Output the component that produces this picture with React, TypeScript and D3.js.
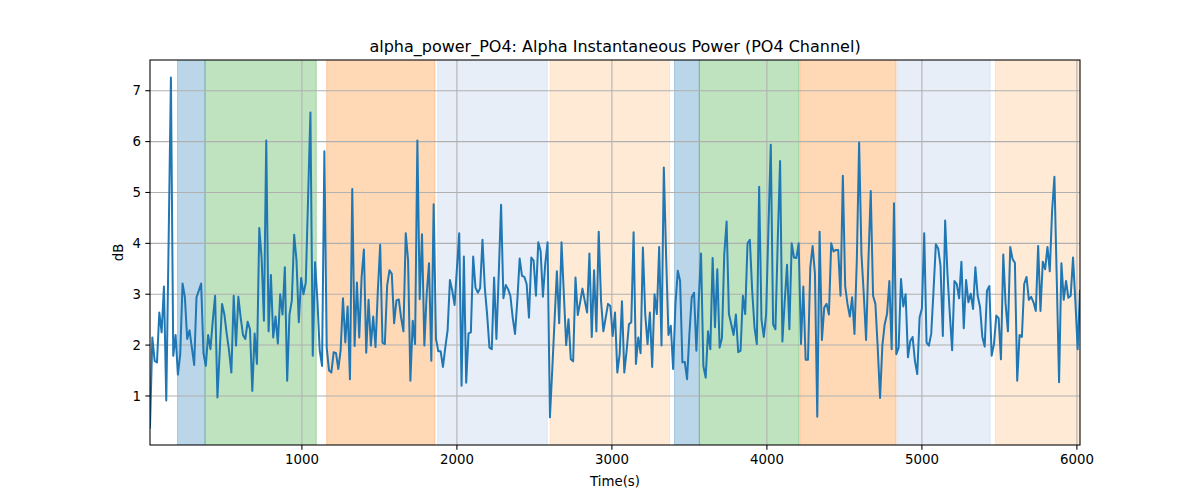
import * as d3 from 'd3';

// alpha power samples (dB), one every 15 s
const alphaPower: number[] = [
  0.38, 2.15, 1.69, 1.66, 2.64, 2.25, 3.15, 0.91, 4.0, 7.26,
  1.79, 2.2, 1.42, 1.82, 3.21, 2.94, 2.12, 2.29, 1.95, 1.61,
  2.94, 3.07, 3.21, 1.84, 1.59, 2.2, 1.92, 2.48, 2.97, 0.97,
  1.89, 2.81, 2.6, 2.22, 1.89, 1.46, 2.97, 1.99, 2.95, 2.54,
  2.2, 2.12, 2.46, 2.31, 1.1, 2.23, 1.63, 4.3, 3.72, 2.48,
  6.02, 2.27, 3.38, 2.15, 2.56, 2.03, 3.0,
  2.6, 3.53, 1.3, 2.6, 2.88, 4.17, 3.67, 2.45, 3.32, 3.0,
  3.23, 4.9, 6.57, 1.79, 3.63, 2.89, 1.89, 1.59, 5.81, 1.95,
  1.5, 1.46, 1.86, 1.84, 1.53, 1.9, 2.92, 2.05, 2.76, 1.33,
  5.07, 1.98, 3.23, 2.15, 3.33, 3.88, 1.85, 2.89, 1.99, 2.56,
  1.96, 3.07, 3.97, 2.05, 2.02, 3.17, 3.47, 3.4, 2.43, 2.88,
  2.9, 2.54, 2.27, 4.2, 3.67, 1.3, 2.48,
  2.02, 6.02, 2.9, 4.18, 1.99, 3.0, 3.61, 1.69, 4.77, 2.12,
  1.88, 1.88, 1.57, 1.95, 2.29, 3.28, 3.07, 2.79, 3.5, 4.2,
  1.2, 3.74, 1.26, 2.23, 2.25, 3.74, 3.13, 3.03, 3.12, 4.07,
  3.13, 2.6, 1.95, 1.92, 3.33, 2.12, 3.4, 4.76, 2.92, 3.18,
  3.1, 2.97, 2.54, 2.22, 2.89, 3.7, 3.36, 3.34, 3.2, 2.54,
  3.72, 3.66, 2.97, 4.02, 3.85, 2.95, 3.6,
  4.02, 0.58, 1.5, 2.48, 3.45, 2.43, 4.02, 3.0, 2.0, 2.51,
  1.72, 1.68, 3.33, 2.59, 2.84, 3.11, 2.87, 2.64, 3.8, 2.16,
  3.47, 2.27, 4.23, 2.87, 2.27, 2.54, 2.81, 2.77, 2.18, 2.64,
  1.46, 1.82, 2.86, 1.46, 1.89, 2.41, 2.45, 4.22, 1.63, 2.15,
  1.84, 3.92, 2.61, 2.02, 2.64, 1.57, 3.0, 2.61, 3.93, 1.99,
  5.49, 3.72, 2.2, 2.38, 1.53, 2.81, 3.46,
  3.26, 1.66, 1.67, 1.33, 2.22, 2.94, 3.03, 1.89, 2.87, 3.8,
  1.59, 1.36, 2.27, 1.92, 3.71, 2.35, 3.49, 1.95, 2.14, 3.79,
  4.43, 2.61, 2.41, 2.2, 2.6, 1.86, 1.89, 2.97, 2.61, 4.0,
  4.07, 3.07, 2.35, 2.02, 5.11, 2.5, 2.16, 2.61, 4.31, 5.94,
  2.41, 2.31, 4.05, 5.62, 2.07, 2.87, 3.58, 2.31, 4.0, 3.72,
  3.71, 4.0, 2.02, 3.15, 1.71, 1.71, 3.53,
  3.95, 3.4, 0.59, 4.23, 2.1, 2.74, 2.81, 2.6, 4.0, 3.84,
  3.87, 3.87, 2.97, 5.33, 3.16, 2.81, 2.56, 2.94, 2.22, 3.66,
  5.98, 3.79, 3.0, 2.1, 3.66, 5.03, 2.97, 2.81, 1.95, 0.96,
  1.99, 2.41, 2.61, 3.26, 1.92, 4.79, 1.82, 1.95, 3.3, 2.76,
  3.0, 1.76, 2.08, 2.16, 1.69, 1.43, 2.54, 2.72, 4.2, 2.05,
  1.99, 2.22, 3.07, 3.98, 3.9, 3.56, 2.18, 4.45,
  3.4, 2.61, 1.9, 3.26, 3.2, 2.92, 3.64, 2.33, 3.28, 2.84,
  3.01, 2.71, 3.53, 2.97, 2.75, 2.16, 1.97, 3.07, 3.16, 1.79,
  2.02, 2.58, 2.53, 1.72, 3.78, 2.81, 2.27, 3.93, 3.69, 3.62,
  1.3, 2.2, 2.16, 3.2, 3.34, 2.89, 2.95, 2.84, 2.67, 3.95,
  2.67, 3.64, 3.49, 3.93, 3.45, 4.64, 5.31, 3.3, 1.27, 3.61,
  2.89, 3.26, 2.93, 2.97, 3.72, 2.87, 1.92, 3.07,
];

const startTime = 20;
const sampleStep = 15;
const times = alphaPower.map((_, i) => startTime + i * sampleStep);

// shaded stages [start, end, colour]
const bandStarts = [198, 375, 1160, 1876, 2602, 3404, 3564, 4212, 4840, 5474];
const bandEnds = [375, 1093, 1858, 2583, 3372, 3564, 4206, 4833, 5440, 6100];
const bandColors = ['#1f77b4', '#2ca02c', '#ff7f0e', '#aec7e8', '#ffbb78',
  '#1f77b4', '#2ca02c', '#ff7f0e', '#aec7e8', '#ffbb78'];

const xTicks = [1000, 2000, 3000, 4000, 5000, 6000];
const yTicks = [1, 2, 3, 4, 5, 6, 7];

const W = 1200;
const H = 500;
const margin = { top: 60, right: 120, bottom: 55, left: 150 };
const FONT = '"DejaVu Sans", sans-serif';

export default function App() {
  const iw = W - margin.left - margin.right;
  const ih = H - margin.top - margin.bottom;

  const x = d3.scaleLinear()
    .domain(d3.extent(times) as [number, number])
    .range([0, iw]);

  const lo = d3.min(alphaPower) ?? 0;
  const hi = d3.max(alphaPower) ?? 1;
  const pad = (hi - lo) * 0.05;
  const y = d3.scaleLinear().domain([lo - pad, hi + pad]).range([ih, 0]);

  const line = d3.line<number>()
    .x((_, i) => x(times[i]))
    .y(d => y(d));

  const [x0, x1] = x.domain();

  return (
    <div style={{ position: 'absolute', left: 0, top: 0 }}>
      <svg width={W} height={H} style={{ display: 'block', background: '#fff' }}>
        <defs>
          <clipPath id="plot-clip">
            <rect x={0} y={0} width={iw} height={ih} />
          </clipPath>
        </defs>
        <text x={margin.left + iw / 2} y={52} textAnchor="middle"
          style={{ fontFamily: FONT, fontSize: '16px', fill: '#000' }}>
          alpha_power_PO4: Alpha Instantaneous Power (PO4 Channel)
        </text>
        <g transform={`translate(${margin.left},${margin.top})`}>
          <g clipPath="url(#plot-clip)">
            {bandStarts.map((s, i) => {
              const a = x(Math.max(s, x0));
              const b = x(Math.min(bandEnds[i], x1 + 100));
              return (
                <rect key={i} x={a} y={-2} width={b - a} height={ih + 4}
                  fill={bandColors[i]} fillOpacity={0.3}
                  stroke={bandColors[i]} strokeOpacity={0.3} strokeWidth={1} />
              );
            })}
            {xTicks.map(t => (
              <line key={`gx${t}`} x1={x(t)} x2={x(t)} y1={0} y2={ih}
                stroke="#b0b0b0" strokeWidth={1.07} />
            ))}
            {yTicks.map(t => (
              <line key={`gy${t}`} x1={0} x2={iw} y1={y(t)} y2={y(t)}
                stroke="#b0b0b0" strokeWidth={1.07} />
            ))}
            <path d={line(alphaPower) ?? ''} fill="none" stroke="#1f77b4"
              strokeWidth={2} strokeLinejoin="round" strokeLinecap="square" />
          </g>
          <rect x={0} y={0} width={iw} height={ih} fill="none" stroke="#000" strokeWidth={1.07} />
          {xTicks.map(t => (
            <g key={`tx${t}`} transform={`translate(${x(t)},${ih})`}>
              <line y1={0} y2={4.67} stroke="#000" strokeWidth={1.07} />
              <text y={18.5} textAnchor="middle"
                style={{ fontFamily: FONT, fontSize: '13.33px', fill: '#000' }}>{t}</text>
            </g>
          ))}
          {yTicks.map(t => (
            <g key={`ty${t}`} transform={`translate(0,${y(t)})`}>
              <line x1={0} x2={-4.67} stroke="#000" strokeWidth={1.07} />
              <text x={-9} dy="0.35em" textAnchor="end"
                style={{ fontFamily: FONT, fontSize: '13.33px', fill: '#000' }}>{t}</text>
            </g>
          ))}
          <text x={iw / 2} y={ih + 41} textAnchor="middle"
            style={{ fontFamily: FONT, fontSize: '13.33px', fill: '#000' }}>Time(s)</text>
          <text transform={`translate(-27,${ih / 2}) rotate(-90)`} textAnchor="middle"
            style={{ fontFamily: FONT, fontSize: '13.33px', fill: '#000' }}>dB</text>
        </g>
      </svg>
    </div>
  );
}
